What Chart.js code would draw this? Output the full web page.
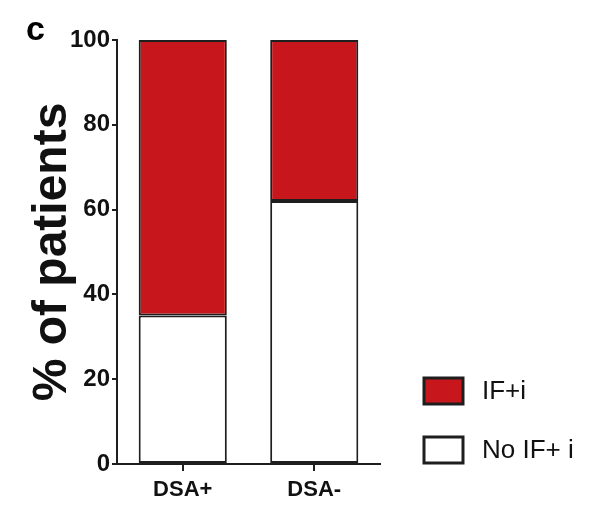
<!DOCTYPE html>
<html>
<head>
<meta charset="utf-8">
<script src="https://cdn.jsdelivr.net/npm/chart.js@4"></script>
<style>
  html, body { margin: 0; padding: 0; background: #fff; }
  #wrap { width: 600px; height: 510px; position: relative; }
</style>
</head>
<body>
<div id="wrap"><canvas id="barChart"></canvas></div>
<script>
const categories = ['DSA+', 'DSA-'];
const noIfValues = [35, 62];
const ifValues = [65, 38];
const seriesLabels = ['IF+i', 'No IF+ i'];
const yTicks = [0, 20, 40, 60, 80, 100];

const red = '#c8171c';
const ink = '#1e1e1e';
const font = '"Liberation Sans", Arial, sans-serif';

// panel letter and legend in the lower right
const extras = {
  id: 'extras',
  afterDraw(chart) {
    const ctx = chart.ctx;
    ctx.save();
    ctx.fillStyle = '#000';
    ctx.font = 'bold 34px ' + font;
    ctx.textBaseline = 'alphabetic';
    ctx.fillText('c', 26, 40);

    const items = [
      { label: seriesLabels[0], fill: red, y: 378 },
      { label: seriesLabels[1], fill: '#fff', y: 437 }
    ];
    ctx.font = '26px ' + font;
    ctx.textBaseline = 'middle';
    items.forEach(it => {
      ctx.fillStyle = it.fill;
      ctx.fillRect(424, it.y, 39, 26);
      ctx.lineWidth = 3;
      ctx.strokeStyle = ink;
      ctx.strokeRect(424, it.y, 39, 26);
      ctx.fillStyle = '#111';
      ctx.fillText(it.label, 482, it.y + 14);
    });
    ctx.restore();
  }
};

const ctxBar = document.getElementById('barChart').getContext('2d');
new Chart(ctxBar, {
  type: 'bar',
  data: {
    labels: categories,
    datasets: [
      {
        label: seriesLabels[1],
        data: noIfValues,
        backgroundColor: '#fff',
        borderColor: ink,
        borderWidth: 2,
        borderSkipped: false,
        barPercentage: 0.67,
        categoryPercentage: 1
      },
      {
        label: seriesLabels[0],
        data: ifValues,
        backgroundColor: red,
        borderColor: ink,
        borderWidth: 2,
        borderSkipped: false,
        barPercentage: 0.67,
        categoryPercentage: 1
      }
    ]
  },
  options: {
    responsive: true,
    maintainAspectRatio: false,
    animation: false,
    layout: { padding: { left: 24, right: 220, top: 40, bottom: 0 } },
    plugins: {
      legend: { display: false },
      tooltip: { enabled: false }
    },
    scales: {
      x: {
        stacked: true,
        afterFit: s => { s.height = 46; },
        border: { display: true, color: ink, width: 2 },
        grid: { display: true, offset: false, drawOnChartArea: false, drawTicks: true, tickLength: 7, color: ink, lineWidth: 2 },
        ticks: { color: '#111', font: { family: font, size: 22, weight: 'bold' }, padding: 6 }
      },
      y: {
        stacked: true,
        min: 0,
        max: 100,
        afterFit: s => { s.width = 93; },
        afterBuildTicks: s => { s.ticks = yTicks.map(v => ({ value: v })); },
        border: { display: true, color: ink, width: 2 },
        grid: { display: true, drawOnChartArea: false, drawTicks: true, tickLength: 5, color: ink, lineWidth: 2 },
        ticks: { color: '#111', font: { family: font, size: 24, weight: 'bold' }, padding: 2 },
        title: {
          display: true,
          text: '% of patients',
          color: '#111',
          font: { family: font, size: 48, weight: 'bold' },
          padding: { top: 0, bottom: 0 }
        }
      }
    }
  },
  plugins: [extras]
});
</script>
</body>
</html>
